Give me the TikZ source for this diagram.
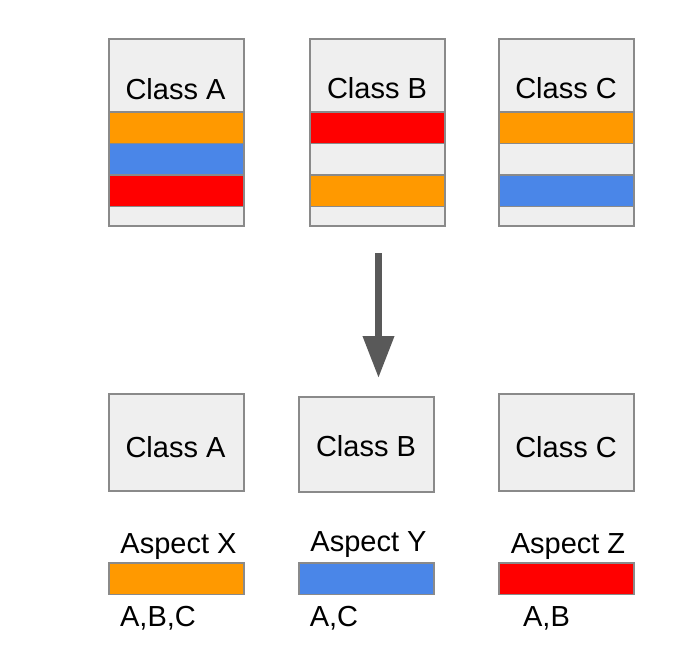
\documentclass[tikz,border=0pt]{standalone}
\usepackage{fontspec}
\setmainfont{Liberation Sans}
\usetikzlibrary{arrows.meta, positioning}
\definecolor{cgrey}{HTML}{EFEFEF}
\definecolor{cline}{HTML}{8A8A8A}
\definecolor{corange}{HTML}{FF9900}
\definecolor{cblue}{HTML}{4A86E8}
\definecolor{cred}{HTML}{FF0000}
\definecolor{carrow}{HTML}{595959}
\tikzset{
  every picture/.style={x=1pt, y=-1pt, line width=1.6pt},
  classbox/.style={draw=cline, fill=cgrey, minimum width=135pt, minimum height=#1, inner sep=0pt, anchor=north west},
  stripe/.style={draw=cline, fill=#1, minimum width=135pt, minimum height=31.5pt, inner sep=0pt, anchor=north west},
  lbl/.style={font=\fontsize{29}{34}\selectfont, inner sep=0pt, anchor=base},
  bigarrow/.style={-{Triangle[length=42pt, width=30pt]}, draw=carrow, line width=7pt},
}

\begin{document}
\begin{tikzpicture}
  \useasboundingbox (0,0) rectangle (687,645);
  % classes before
  \node[classbox=187pt] (topA) at (108,38) {};
  \node[stripe=corange] (topA1) at (108,111) {};
  \node[stripe=cblue] (topA2) at (108,142.5) {};
  \node[stripe=cred] (topA3) at (108,174) {};
  \node[lbl] (topAname) at (175.5,99) {Class A};

  \node[classbox=187pt] (topB) at (309,38) {};
  \node[stripe=cred] (topB1) at (309,111) {};
  \node[stripe=corange] (topB3) at (309,174) {};
  \node[lbl] (topBname) at (377,98) {Class B};

  \node[classbox=187pt] (topC) at (498,38) {};
  \node[stripe=corange] (topC1) at (498,111) {};
  \node[stripe=cblue] (topC3) at (498,174) {};
  \node[lbl] (topCname) at (566,98) {Class C};

  % arrow
  \coordinate (arrfrom) at (378.5,253);
  \coordinate (arrto) at (378.5,378);
  \draw[bigarrow] (arrfrom) -- (arrto);

  % classes after
  \node[classbox=97pt] (botA) at (108,393) {};
  \node[lbl] (botAname) at (175.5,457) {Class A};
  \node[classbox=95pt] (botB) at (298,396) {};
  \node[lbl] (botBname) at (366,456) {Class B};
  \node[classbox=97pt] (botC) at (498,393) {};
  \node[lbl] (botCname) at (566,457) {Class C};

  % aspects
  \node[stripe=corange] (aspX) at (108,562) {};
  \node[lbl] (aspXname) at (178.5,553) {Aspect X};
  \node[lbl] (aspXuse) at (158,626) {A,B,C};

  \node[stripe=cblue] (aspY) at (298,562) {};
  \node[lbl] (aspYname) at (368.5,551) {Aspect Y};
  \node[lbl] (aspYuse) at (334,626) {A,C};

  \node[stripe=cred] (aspZ) at (498,562) {};
  \node[lbl] (aspZname) at (568,553) {Aspect Z};
  \node[lbl] (aspZuse) at (546.5,626) {A,B};
\end{tikzpicture}
\end{document}
